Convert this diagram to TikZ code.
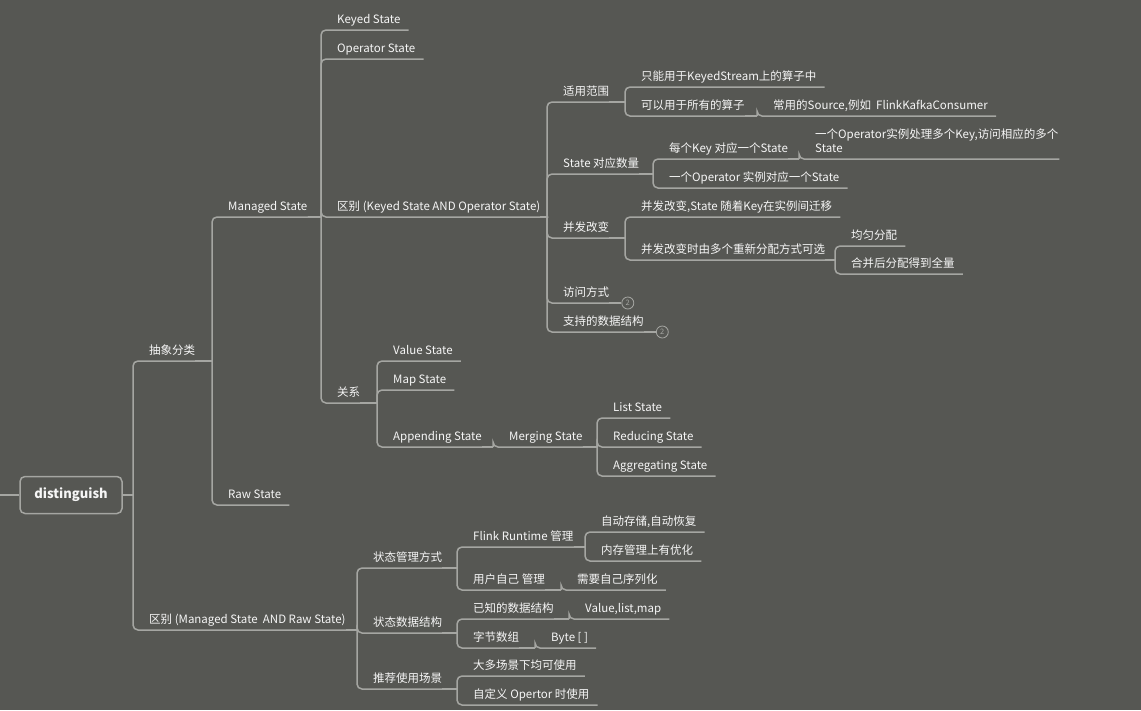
\documentclass[tikz,border=0pt]{standalone}
\usepackage{fontspec}
\setmainfont{Noto Sans CJK SC}
\usetikzlibrary{positioning,calc}
\definecolor{mapbg}{RGB}{86,87,83}
\definecolor{mapline}{RGB}{165,166,162}
\definecolor{maptext}{RGB}{246,246,246}
\tikzset{
  branch/.style={draw=mapline, line width=1.5pt},
  topic/.style={anchor=south west, inner xsep=0pt, inner ysep=0pt,
                text height=8.5pt, text depth=6.5pt, text=maptext,
                font=\fontsize{11.5}{14}\selectfont},
  rootbox/.style={draw=mapline, line width=1.5pt, rounded corners=5pt,
                  fill=mapbg, minimum width=102pt, minimum height=37pt,
                  text=maptext, font=\fontsize{13}{16}\selectfont\bfseries},
  more/.style={circle, draw=mapline, line width=0.8pt, minimum size=12pt,
               inner sep=0pt, fill=mapbg, text=mapline,
               font=\fontsize{7.5}{8}\selectfont},
}
% parent -> child: stub to the child's column, then elbow and underline
\newcommand\link[3][south east]{%
  \draw[branch] let \p1=(#2.#1), \p2=(#3.south west) in (\p1) -- (\x2-16,\y1);
  \draw[branch, rounded corners=5pt] let \p1=(#2.#1), \p2=(#3.south west),
    \p3=(#3.south east) in (\x2-16,\y1) |- (\x3+8,\y3);}

\begin{document}
\begin{tikzpicture}[x=1pt, y=-1pt]
  \useasboundingbox[fill=mapbg] (0,0) rectangle (1141,710);
  % root
  \node[rootbox] (root) at (71,495) {distinguish};
  \coordinate (rootIn) at (0,495);
  \draw[branch] (rootIn) -- (root.west);
  % first level
  \node[topic] (abs) at (149,361) {抽象分类};
  \node[topic] (diff) at (149,630) {区别 (Managed State\ \ AND Raw State)};
  \link[east]{root}{abs}
  \link[east]{root}{diff}
  % Managed / Raw
  \node[topic] (managed) at (228,217) {Managed State};
  \node[topic] (raw) at (228,505) {Raw State};
  \link{abs}{managed}
  \link{abs}{raw}
  \node[topic] (keyed) at (337,30) {Keyed State};
  \node[topic] (operator) at (337,59) {Operator State};
  \node[topic] (kdiff) at (337,217) {区别 (Keyed State AND Operator State)};
  \node[topic] (rel) at (337,403) {关系};
  \foreach \c in {keyed,operator,kdiff,rel} \link{managed}{\c};
  % Keyed vs Operator
  \node[topic] (range) at (563,102) {适用范围};
  \node[topic] (count) at (563,174) {State 对应数量};
  \node[topic] (rescale) at (563,238) {并发改变};
  \node[topic] (access) at (563,303) {访问方式};
  \node[topic] (types) at (563,332) {支持的数据结构};
  \foreach \c in {range,count,rescale,access,types} \link{kdiff}{\c};
  \node[more, right=12pt of access.south east] (accessMore) {2};
  \node[more, right=12pt of types.south east] (typesMore) {2};
  \draw[branch] (access.south east) -- (accessMore);
  \draw[branch] (types.south east) -- (typesMore);
  \node[topic] (rangeK) at (641,87) {只能用于KeyedStream上的算子中};
  \node[topic] (rangeO) at (641,116) {可以用于所有的算子};
  \node[topic] (rangeSrc) at (773,116) {常用的Source,例如\ \ FlinkKafkaConsumer};
  \link{range}{rangeK}
  \link{range}{rangeO}
  \link{rangeO}{rangeSrc}
  \node[topic] (countK) at (669,159) {每个Key 对应一个State};
  \node[topic, text width=236pt, align=left, text depth=20.5pt] (countKmulti)
    at (815,159) {一个Operator实例处理多个Key,访问相应的多个\\State};
  \node[topic] (countO) at (669,188) {一个Operator 实例对应一个State};
  \link{count}{countK}
  \link{countK}{countKmulti}
  \link{count}{countO}
  \node[topic] (resK) at (641,217) {并发改变,State 随着Key在实例间迁移};
  \node[topic] (resO) at (641,260) {并发改变时由多个重新分配方式可选};
  \node[topic] (resEven) at (851,246) {均匀分配};
  \node[topic] (resUnion) at (851,274) {合并后分配得到全量};
  \link{rescale}{resK}
  \link{rescale}{resO}
  \link{resO}{resEven}
  \link{resO}{resUnion}
  % relation of state types
  \node[topic] (value) at (393,361) {Value State};
  \node[topic] (map) at (393,390) {Map State};
  \node[topic] (append) at (393,447) {Appending State};
  \foreach \c in {value,map,append} \link{rel}{\c};
  \node[topic] (merging) at (509,447) {Merging State};
  \link{append}{merging}
  \node[topic] (list) at (613,418) {List State};
  \node[topic] (reducing) at (613,447) {Reducing State};
  \node[topic] (aggregating) at (613,476) {Aggregating State};
  \foreach \c in {list,reducing,aggregating} \link{merging}{\c};
  % Managed vs Raw
  \node[topic] (mgmt) at (373,568) {状态管理方式};
  \node[topic] (dstruct) at (373,633) {状态数据结构};
  \node[topic] (usage) at (373,689) {推荐使用场景};
  \foreach \c in {mgmt,dstruct,usage} \link{diff}{\c};
  \node[topic] (mgmtRT) at (473,547) {Flink Runtime 管理};
  \node[topic] (mgmtUser) at (473,590) {用户自己 管理};
  \node[topic] (rtSave) at (601,532) {自动存储,自动恢复};
  \node[topic] (rtMem) at (601,561) {内存管理上有优化};
  \node[topic] (userSer) at (577,590) {需要自己序列化};
  \link{mgmt}{mgmtRT}
  \link{mgmt}{mgmtUser}
  \link{mgmtRT}{rtSave}
  \link{mgmtRT}{rtMem}
  \link{mgmtUser}{userSer}
  \node[topic] (dsKnown) at (473,619) {已知的数据结构};
  \node[topic] (dsKnownV) at (585,619) {Value,list,map};
  \node[topic] (dsBytes) at (473,648) {字节数组};
  \node[topic] (dsBytesB) at (551,648) {Byte [ ]};
  \link{dstruct}{dsKnown}
  \link{dstruct}{dsBytes}
  \link{dsKnown}{dsKnownV}
  \link{dsBytes}{dsBytesB}
  \node[topic] (usageMost) at (473,676) {大多场景下均可使用};
  \node[topic] (usageOp) at (473,705) {自定义 Opertor 时使用};
  \link{usage}{usageMost}
  \link{usage}{usageOp}
\end{tikzpicture}
\end{document}
